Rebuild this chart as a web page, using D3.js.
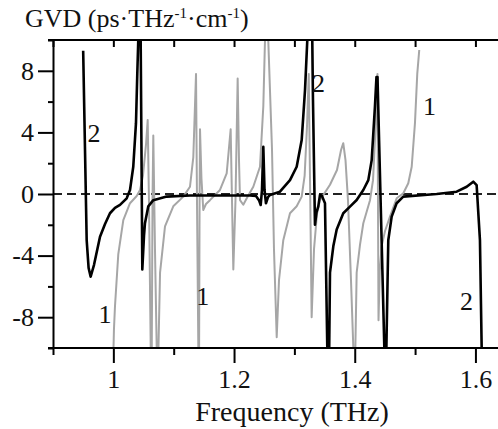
<!DOCTYPE html>
<html><head><meta charset="utf-8">
<script src="https://cdn.jsdelivr.net/npm/d3@7"></script>
<style>
body{margin:0;background:#fff;}
svg text{font-family:"Liberation Serif","Times New Roman",Times,"DejaVu Serif",serif !important;fill:#111;}
</style></head>
<body>
<svg id="c" width="498" height="429"></svg>
<script>
// ---- data (frequency THz, GVD ps/THz/cm) ----
const xMajorTicks = [1, 1.2, 1.4, 1.6];
const xMinorTicks = [0.9, 1.1, 1.3, 1.5];
const xTopTicks = [0.9, 1.0, 1.1, 1.2, 1.3, 1.4, 1.5, 1.6];
const yMajorTicks = [-8, -4, 0, 4, 8];
const yMinorTicks = [-10, -6, -2, 2, 6, 10];
const xTickLabels = ["1", "1.2", "1.4", "1.6"];
const yTickLabels = ["-8", "-4", "0", "4", "8"];

// curve 1 (grey)
const series1 = [
 [0.9994,-11.4],[1.001,-8.8],[1.0027,-7.3],[1.0082,-3.9],[1.0165,-1.7],[1.0276,-0.6],[1.0387,-0.13],
 [1.0442,0.26],[1.0491,1.2],[1.0541,3.2],[1.0569,4.8],[1.059,-0.4],[1.0619,-9.9],[1.0625,-11.4],
 [1.0635,-11.4],[1.0649,-0.4],[1.0662,3.8],[1.069,-3.6],[1.0718,-9.9],[1.0723,-11.4],[1.074,-11.4],
 [1.0774,-5.1],[1.0856,-2.1],[1.0993,-0.8],[1.1159,-0.17],[1.127,0.47],[1.1325,2.4],[1.137,7.8],
 [1.1386,-0.4],[1.1408,-9.9],[1.1413,-11.4],[1.142,-11.4],[1.1429,-0.4],[1.1436,4.2],[1.146,1.0],
 [1.149,-1.04],[1.1535,-0.65],[1.1601,-0.4],[1.1767,0.26],[1.1878,1.34],[1.1944,4.2],[1.1966,-0.4],
 [1.1988,-4.9],[1.2024,-0.4],[1.206,7.5],[1.2082,2.2],[1.2099,-0.4],[1.2153,-0.7],[1.2231,-0.13],
 [1.2319,0.47],[1.243,1.77],[1.2485,5.7],[1.2513,10],[1.2525,11.5],[1.2554,11.5],[1.2567,10],
 [1.2629,2.9],[1.2662,-3.6],[1.2707,-9.3],[1.2745,-5.6],[1.2816,-3],[1.2927,-1.25],[1.3038,-0.8],
 [1.3121,-0.17],[1.317,1.2],[1.321,4.5],[1.3238,7.8],[1.3262,0],[1.3286,-8],[1.3325,-3.6],
 [1.3374,-1.3],[1.3424,-0.4],[1.359,0.6],[1.3706,1.56],[1.3773,2.86],[1.381,3.3],[1.3847,2.2],
 [1.3888,-0.4],[1.3938,-5.6],[1.3976,-9.9],[1.3985,-11.4],[1.4004,-11.4],[1.4032,-5.1],[1.4087,-3.3],
 [1.4142,-1.9],[1.4253,-0.4],[1.4303,0.9],[1.4344,4.2],[1.4377,7.8],[1.4385,-0.4],[1.4394,-8.2],
 [1.4415,-5],[1.4445,-3.4],[1.4502,-2.4],[1.4584,-1.47],[1.4695,-0.28],[1.4805,0.05],[1.4887,0.7],
 [1.4944,1.77],[1.4998,4.6],[1.5036,7.8],[1.5069,9.35]
];

// curve 2 (black)
const series2 = [
 [0.9500,9.3],[0.9558,-3.0],[0.9590,-4.8],[0.9624,-5.37],[0.9680,-4.6],[0.9779,-2.77],[0.9862,-1.95],
 [0.9944,-1.25],[1.0027,-0.9],[1.011,-0.71],[1.0221,-0.28],[1.0276,0.26],[1.033,1.77],[1.0375,4.6],
 [1.0397,7.85],[1.0413,10],[1.0425,11.5],[1.045,11.5],[1.0466,2.9],[1.048,-4.9],[1.0508,-2.7],
 [1.0524,-1.9],[1.0579,-0.8],[1.0662,-0.4],[1.0884,-0.17],[1.127,-0.1],[1.2264,-0.1],[1.2364,-0.13],
 [1.2413,-0.4],[1.2442,-0.71],[1.2463,0.26],[1.2485,3.07],[1.2505,0.26],[1.2529,-0.6],[1.2563,-0.2],
 [1.2596,-0.06],[1.2761,0.15],[1.2927,0.9],[1.3038,1.77],[1.3121,3.5],[1.3176,6.75],[1.3214,10],
 [1.3233,11.5],[1.3292,11.5],[1.3308,6.1],[1.3341,-2.0],[1.3366,-1.2],[1.3396,-0.8],[1.3424,-0.06],
 [1.3457,-0.13],[1.3507,-0.6],[1.3545,-9.9],[1.3555,-11.4],[1.3573,-11.4],[1.359,-5.1],[1.3645,-3.4],
 [1.3701,-2.3],[1.381,-1.25],[1.3921,-0.82],[1.4032,-0.39],[1.4142,0.26],[1.4225,0.9],[1.4281,2.2],
 [1.4335,5.7],[1.436,7.6],[1.4377,7.6],[1.449,-9.9],[1.4501,-11.4],[1.4518,-11.4],[1.4556,-3],
 [1.4612,-1.47],[1.4694,-0.6],[1.4804,-0.17],[1.5358,0],[1.5689,0.15],[1.5855,0.47],[1.5964,0.8],
 [1.602,0.58],[1.6075,-3],[1.6103,-9.9],[1.6107,-11.4]
];

const curveLabels = [
 {text:"1", f:0.986, v:-8.4}, {text:"1", f:1.148, v:-7.2},  {text:"1", f:1.524, v:5.1},
 {text:"2", f:0.968, v:3.4},  {text:"2", f:1.34, v:6.6},   {text:"2", f:1.585, v:-7.5}
];

const FONT = "'Liberation Serif','Times New Roman',Times,'DejaVu Serif',serif";

// ---- layout ----
const svg = d3.select("#c");
const x = d3.scaleLinear().domain([0.9, 1.6374]).range([53, 498]);
const y = d3.scaleLinear().domain([-10, 10]).range([348, 40]);

svg.append("defs").append("clipPath").attr("id","clip")
  .append("rect").attr("x",53).attr("y",40).attr("width",445).attr("height",308);

// zero dashed line
svg.append("line").attr("x1",53).attr("x2",498).attr("y1",y(0)).attr("y2",y(0))
  .attr("stroke","#222").attr("stroke-width",1.8).attr("stroke-dasharray","9,5");

const line = d3.line().x(d=>x(d[0])).y(d=>y(d[1])).curve(d3.curveLinear);
const g = svg.append("g").attr("clip-path","url(#clip)");
g.append("path").datum(series1).attr("d",line).attr("fill","none")
  .attr("stroke","#a6a6a6").attr("stroke-width",2).attr("stroke-linejoin","round");
g.append("path").datum(series2).attr("d",line).attr("fill","none")
  .attr("stroke","#000").attr("stroke-width",2.6).attr("stroke-linejoin","round");

// axes
function styleAxis(sel){
  sel.attr("font-family",FONT).attr("font-size",26);
  sel.selectAll("path,line").attr("stroke","#000").attr("stroke-width",2);
  sel.selectAll("text").attr("font-family",FONT).attr("font-size",26).attr("fill","#111");
}
// bottom major
const xb = svg.append("g").attr("transform","translate(0,348)")
  .call(d3.axisBottom(x).tickValues(xMajorTicks).tickSize(15).tickSizeOuter(0)
        .tickFormat((d,i)=>xTickLabels[i]).tickPadding(7));
styleAxis(xb);
xb.select(".domain").attr("d","M48,0H498");
svg.append("g").attr("transform","translate(0,348)")
  .call(d3.axisBottom(x).tickValues(xMinorTicks).tickSize(7).tickSizeOuter(0).tickFormat(""))
  .call(s=>{styleAxis(s); s.select(".domain").remove();});
// top
svg.append("g").attr("transform","translate(0,40)")
  .call(d3.axisBottom(x).tickValues(xTopTicks).tickSize(7).tickSizeOuter(0).tickFormat(""))
  .call(s=>{styleAxis(s); s.select(".domain").attr("d","M48,0H498");});
// left
const yl = svg.append("g").attr("transform","translate(53,0)")
  .call(d3.axisLeft(y).tickValues(yMajorTicks).tickSize(15).tickSizeOuter(0)
        .tickFormat((d,i)=>yTickLabels[i]).tickPadding(4));
styleAxis(yl);
svg.append("g").attr("transform","translate(53,0)")
  .call(d3.axisLeft(y).tickValues(yMinorTicks).tickSize(5).tickSizeOuter(0).tickFormat(""))
  .call(s=>{styleAxis(s); s.select(".domain").remove();});

// axis titles
svg.append("text").attr("x",292).attr("y",421).attr("text-anchor","middle")
  .attr("font-family",FONT).attr("font-size",28).text("Frequency (THz)");
const t = svg.append("text").attr("x",25).attr("y",27).attr("font-family",FONT).attr("font-size",26);
t.append("tspan").text("GVD (ps·THz");
t.append("tspan").attr("dy",-9).attr("font-size",15).text("-1");
t.append("tspan").attr("dy",9).text("·cm");
t.append("tspan").attr("dy",-9).attr("font-size",15).text("-1");
t.append("tspan").attr("dy",9).text(")");

// curve labels
svg.selectAll("text.cl").data(curveLabels).enter().append("text").attr("class","cl")
  .attr("x",d=>x(d.f)).attr("y",d=>y(d.v)).attr("text-anchor","middle")
  .attr("font-family",FONT).attr("font-size",26).text(d=>d.text);
</script>
</body></html>
